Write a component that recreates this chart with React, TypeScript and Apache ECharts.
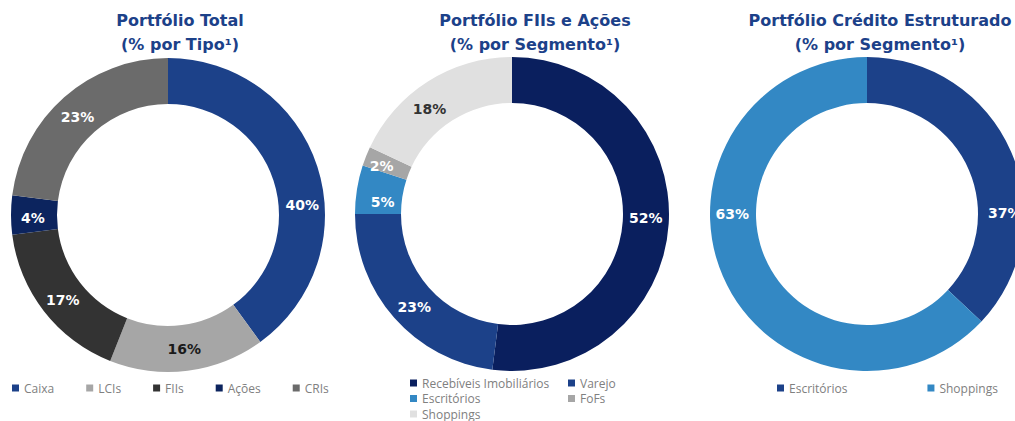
import React, { useEffect, useRef } from "react";
import * as echarts from "echarts";

const totalNames = ["Caixa", "LCIs", "FIIs", "Ações", "CRIs"];
const totalValues = [40, 16, 17, 4, 23];
const totalColors = ["#1c4189", "#a6a6a6", "#333333", "#0c245e", "#6b6b6b"];
const totalLabelColors = ["#ffffff", "#1a1a1a", "#ffffff", "#ffffff", "#ffffff"];
const totalLabelShift = [[4, 32], [-1, -2], [3, 1], [2, 3], [0, 5]];

const fiiNames = ["Recebíveis Imobiliários", "Varejo", "Escritórios", "FoFs", "Shoppings"];
const fiiValues = [52, 23, 5, 2, 18];
const fiiColors = ["#0a1f5e", "#1c4189", "#3388c4", "#a6a6a6", "#e0e0e0"];
const fiiLabelColors = ["#ffffff", "#ffffff", "#ffffff", "#ffffff", "#333333"];
const fiiLabelShift = [[-3, -5], [5, 2], [6, 9], [-3, 2], [-9, 11]];

const creditNames = ["Escritórios", "Shoppings"];
const creditValues = [37, 63];
const creditColors = ["#1c4189", "#3388c4"];
const creditLabelColors = ["#ffffff", "#ffffff"];
const creditLabelShift = [[12, 53], [-9, -54]];

const titles = [
  "Portfólio Total\n(% por Tipo¹)",
  "Portfólio FIIs e Ações\n(% por Segmento¹)",
  "Portfólio Crédito Estruturado\n(% por Segmento¹)",
];

const LABEL_FONT = "'DejaVu Sans', Verdana, sans-serif";
const LEGEND_FONT = "'Open Sans', sans-serif";

function pieData(names: string[], values: number[], colors: string[], labelColors: string[]) {
  return names.map((n, i) => ({
    name: n,
    value: values[i],
    itemStyle: { color: colors[i] },
    label: { color: labelColors[i] },
  }));
}

function legendData(names: string[], colors: string[], subset?: string[]) {
  const list = subset ?? names;
  return list.map((n) => ({ name: n, itemStyle: { color: colors[names.indexOf(n)] } }));
}

function pieSeries(name: string, center: number[], data: any[], shifts: number[][]) {
  return {
    type: "pie",
    name,
    center,
    radius: [111, 157],
    startAngle: 90,
    clockwise: true,
    silent: true,
    avoidLabelOverlap: false,
    label: {
      show: true,
      position: "inside",
      formatter: "{c}%",
      fontFamily: LABEL_FONT,
      fontWeight: "bold",
      fontSize: 14,
    },
    labelLine: { show: false },
    labelLayout: (params: any) => {
      const s = shifts[params.dataIndex] || [0, 0];
      return { dx: s[0], dy: s[1] };
    },
    itemStyle: { borderWidth: 0 },
    data,
  };
}

const legendCommon = {
  icon: "rect",
  itemWidth: 7,
  itemHeight: 7,
  padding: 0,
  selectedMode: false,
  textStyle: { color: "#808080", fontFamily: LEGEND_FONT, fontSize: 12, lineHeight: 14 },
};

export default function App() {
  const ref = useRef<HTMLDivElement>(null);
  useEffect(() => {
    if (!ref.current) return;
    const chart = echarts.init(ref.current, undefined, { renderer: "svg" });
    const titleX = [180, 535, 880];
    chart.setOption({
      animation: false,
      backgroundColor: "#ffffff",
      graphic: titles.map((t, i) => ({
        type: "text",
        x: titleX[i],
        y: 8,
        silent: true,
        style: {
          text: t,
          align: "center",
          verticalAlign: "top",
          fontFamily: LABEL_FONT,
          fontWeight: "bold",
          fontSize: 16,
          lineHeight: 24,
          fill: "#1c4189",
        },
      })),
      legend: [
        {
          ...legendCommon,
          orient: "horizontal",
          left: 12,
          top: 381,
          itemGap: 32,
          data: legendData(totalNames, totalColors),
        },
        {
          ...legendCommon,
          orient: "vertical",
          left: 410,
          top: 376,
          height: 60,
          itemGap: 1.5,
          data: legendData(fiiNames, fiiColors, ["Recebíveis Imobiliários", "Escritórios", "Shoppings"]),
        },
        {
          ...legendCommon,
          orient: "vertical",
          left: 568,
          top: 376,
          height: 60,
          itemGap: 1.5,
          data: legendData(fiiNames, fiiColors, ["Varejo", "FoFs"]),
        },
        {
          ...legendCommon,
          orient: "horizontal",
          left: 777,
          top: 381,
          itemGap: 80,
          data: legendData(creditNames, creditColors),
        },
      ],
      series: [
        pieSeries("total", [168, 215], pieData(totalNames, totalValues, totalColors, totalLabelColors), totalLabelShift),
        pieSeries("fii", [512, 214], pieData(fiiNames, fiiValues, fiiColors, fiiLabelColors), fiiLabelShift),
        pieSeries("credit", [867, 214], pieData(creditNames, creditValues, creditColors, creditLabelColors), creditLabelShift),
      ],
    });
    return () => chart.dispose();
  }, []);
  return (
    <div
      ref={ref}
      style={{ position: "absolute", left: 0, top: 0, width: 1015, height: 421 }}
    />
  );
}
